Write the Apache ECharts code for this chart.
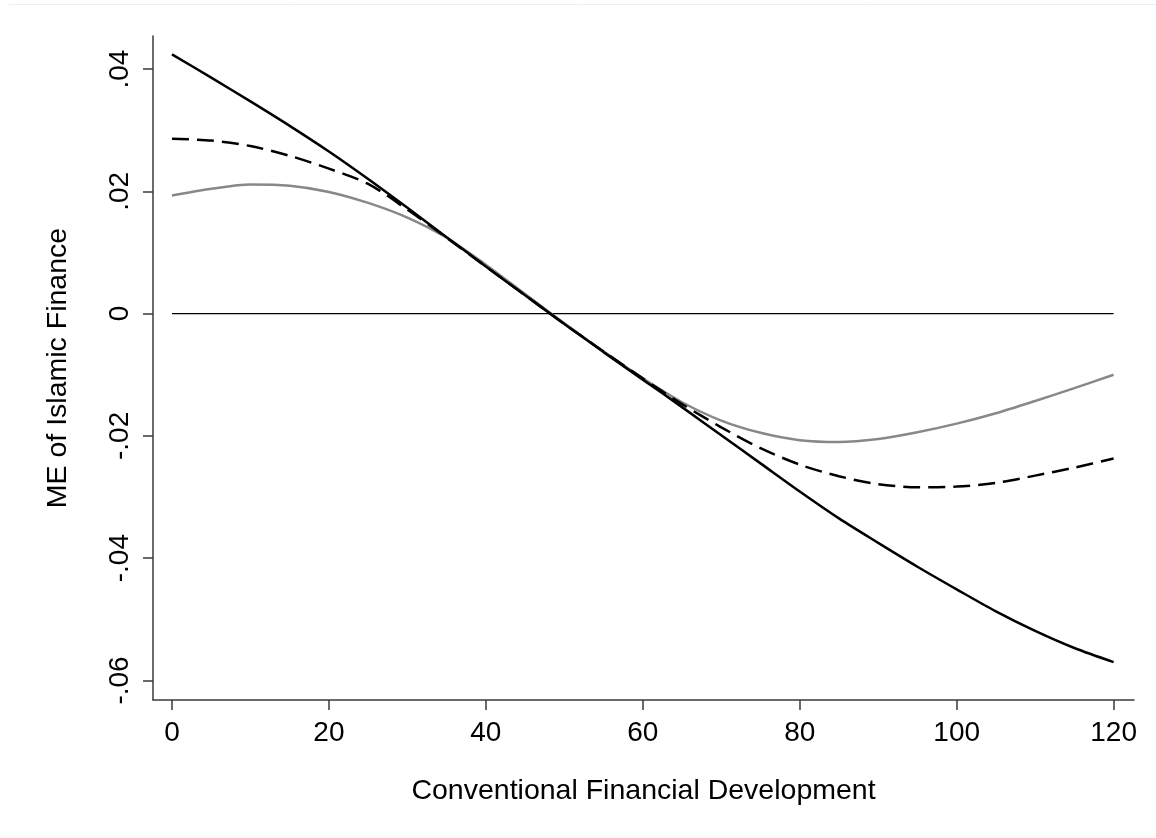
<!DOCTYPE html>
<html>
<head>
<meta charset="utf-8">
<script src="https://cdn.jsdelivr.net/npm/echarts@6/dist/echarts.min.js"></script>
<style>
  html, body { margin: 0; padding: 0; background: #fff; }
  #chart { width: 1156px; height: 838px; }
</style>
</head>
<body>
<div id="chart"></div>
<script>
// x values (conventional financial development)
var xs = [0, 5, 10, 15, 20, 25, 30, 35, 40, 45, 50, 55, 60,
          65, 70, 75, 80, 85, 90, 95, 100, 105, 110, 115, 120];

// marginal effect curves
var solidVals = [0.0424, 0.0386, 0.0347, 0.0307, 0.0265, 0.0220, 0.0173, 0.0125, 0.0077, 0.0030, -0.0017, -0.0063, -0.0108,
                 -0.0153, -0.0199, -0.0245, -0.0291, -0.0335, -0.0375, -0.0414, -0.0451, -0.0487, -0.0519, -0.0547, -0.0570];
var dashVals = [0.0286, 0.0283, 0.0274, 0.0258, 0.0237, 0.0212, 0.0170, 0.0124, 0.0077, 0.0030, -0.0017, -0.0062, -0.0106,
                -0.0148, -0.0186, -0.0220, -0.0247, -0.0266, -0.0279, -0.0284, -0.0283, -0.0277, -0.0265, -0.0252, -0.0237];
var grayVals = [0.0193, 0.0204, 0.0211, 0.0209, 0.0199, 0.0181, 0.0157, 0.0124, 0.0080, 0.0032, -0.0016, -0.0062, -0.0106,
                -0.0145, -0.0175, -0.0195, -0.0207, -0.0210, -0.0205, -0.0194, -0.0180, -0.0163, -0.0143, -0.0122, -0.0100];

// reference line at zero
var zeroLine = [[0, 0], [120, 0]];

// ticks
var xTicks = [0, 20, 40, 60, 80, 100, 120];
var yTicks = [-0.06, -0.04, -0.02, 0, 0.02, 0.04];
var yTickLabels = ['-.06', '-.04', '-.02', '0', '.02', '.04'];

function pairs(vals) {
    return xs.map(function (x, i) { return [x, vals[i]]; });
}

var chart = echarts.init(document.getElementById('chart'));
var font = 'Liberation Sans, Arial, sans-serif';
var axisColor = '#3a3a3a';

var option = {
    animation: false,
    backgroundColor: '#fff',
    textStyle: { fontFamily: font },
    grid: { left: 153, right: 22, top: 36, bottom: 138, containLabel: false },
    graphic: [{
        type: 'line',
        shape: { x1: 9, y1: 4.5, x2: 1156, y2: 4.5 },
        style: { stroke: '#e8eef2', lineWidth: 1 }
    }],
    xAxis: {
        type: 'value',
        min: -2.42,
        max: 122.6,
        name: 'Conventional Financial Development',
        nameLocation: 'middle',
        nameGap: 77,
        nameTextStyle: { fontSize: 28.5, color: '#000', fontFamily: font },
        splitLine: { show: false },
        axisLine: { onZero: false, lineStyle: { color: axisColor, width: 1.5 } },
        axisTick: { show: true, length: 10, customValues: xTicks, lineStyle: { color: axisColor, width: 1.5 } },
        axisLabel: { customValues: xTicks, fontSize: 28, color: '#000', margin: 19, fontFamily: font }
    },
    yAxis: {
        type: 'value',
        min: -0.0632,
        max: 0.0454,
        name: 'ME of Islamic Finance',
        nameLocation: 'middle',
        nameGap: 80,
        nameTextStyle: { fontSize: 28.5, color: '#000', fontFamily: font },
        splitLine: { show: false },
        axisLine: { show: true, onZero: false, lineStyle: { color: axisColor, width: 1.5 } },
        axisTick: { show: true, length: 10, customValues: yTicks, lineStyle: { color: axisColor, width: 1.5 } },
        axisLabel: {
            customValues: yTicks,
            rotate: 90,
            fontSize: 28,
            color: '#000',
            margin: 19,
            fontFamily: font,
            formatter: function (v) {
                for (var i = 0; i < yTicks.length; i++) {
                    if (Math.abs(yTicks[i] - v) < 1e-9) return yTickLabels[i];
                }
                return '';
            }
        }
    },
    series: [
        {
            type: 'line', data: zeroLine, symbol: 'none', silent: true,
            lineStyle: { color: '#000', width: 1.3 }
        },
        {
            type: 'line', data: pairs(grayVals), symbol: 'none', smooth: 0.3,
            lineStyle: { color: '#888888', width: 2.5 }
        },
        {
            type: 'line', data: pairs(dashVals), symbol: 'none', smooth: 0.3,
            lineStyle: { color: '#000', width: 2.5, type: [17, 8] }
        },
        {
            type: 'line', data: pairs(solidVals), symbol: 'none', smooth: 0.3,
            lineStyle: { color: '#000', width: 2.5 }
        }
    ]
};

chart.setOption(option);
</script>
</body>
</html>
